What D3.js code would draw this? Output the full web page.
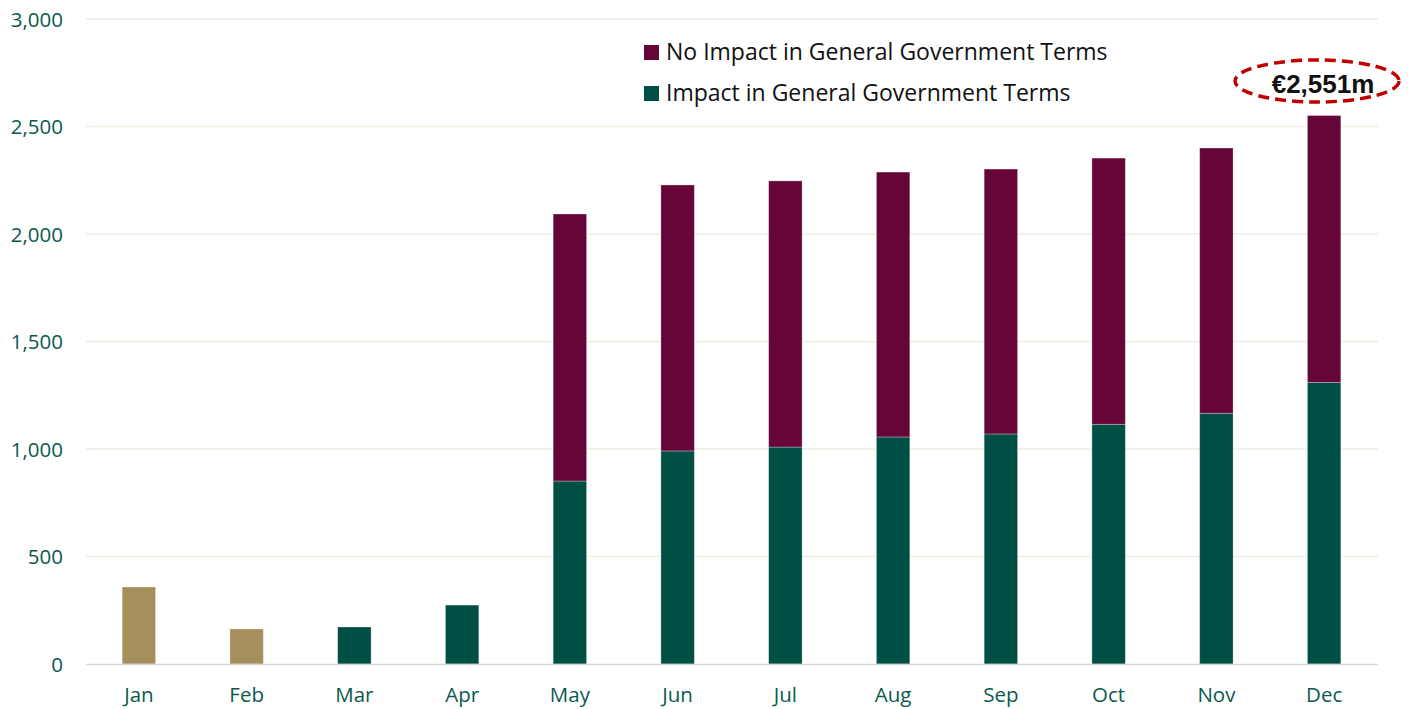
<!DOCTYPE html>
<html><head><meta charset="utf-8">
<script src="https://cdn.jsdelivr.net/npm/d3@7"></script>
<style>body{margin:0;background:#fff}svg{display:block}</style>
</head><body>
<svg id="c" width="1408" height="709"></svg>
<script>
const months = ["Jan","Feb","Mar","Apr","May","Jun","Jul","Aug","Sep","Oct","Nov","Dec"];
const earlyValues = [358, 163, 0, 0, 0, 0, 0, 0, 0, 0, 0, 0];
const impactValues = [0, 0, 172, 274, 851, 991, 1009, 1056, 1070, 1115, 1166, 1310];
const noImpactValues = [0, 0, 0, 0, 1242, 1237, 1238, 1232, 1232, 1238, 1234, 1241];
const yTicks = [0, 500, 1000, 1500, 2000, 2500, 3000];
const legendLabels = ["No Impact in General Government Terms", "Impact in General Government Terms"];
const annotation = "€2,551m";

const colors = {early:"#a58f5c", impact:"#004f44", noImpact:"#660638"};
const font = "'Open Sans', Lato, sans-serif";
const svg = d3.select("#c");
const x = d3.scaleBand().domain(months).range([85, 1378]).paddingInner(0.69).paddingOuter(0.345);
const y = d3.scaleLinear().domain([0, 3000]).range([664, 19]);

// gridlines
svg.append("g").selectAll("line").data(yTicks.filter(d => d > 0)).join("line")
  .attr("x1", 86).attr("x2", 1378).attr("y1", d => y(d)).attr("y2", d => y(d))
  .attr("stroke", "#eeede3").attr("stroke-width", 1.5);

// y axis labels
const yAxis = d3.axisLeft(y).tickValues(yTicks).tickFormat(d3.format(",")).tickSize(0).tickPadding(0);
const ya = svg.append("g").attr("transform", "translate(63,0)").call(yAxis);
ya.select(".domain").remove();
ya.selectAll("text").attr("fill", "#0b5a4e").style("font-family", font).style("font-size", "20.5px").attr("dy", "0.36em");

// stacked data
const data = months.map((m, i) => ({m, early: earlyValues[i], impact: impactValues[i], noImpact: noImpactValues[i]}));
const stack = d3.stack().keys(["early", "impact", "noImpact"])(data);
const g = svg.append("g");
stack.forEach(layer => {
  g.append("g").selectAll("rect").data(layer.filter(d => d[1] > d[0])).join("rect")
    .attr("x", d => x(d.data.m)).attr("width", x.bandwidth())
    .attr("y", d => y(d[1])).attr("height", d => y(d[0]) - y(d[1]))
    .attr("fill", colors[layer.key]).attr("stroke", "rgba(255,255,255,0.35)").attr("stroke-width", 0.8);
});

// baseline
svg.append("line").attr("x1", 86).attr("x2", 1378).attr("y1", y(0) + 0.5).attr("y2", y(0) + 0.5)
  .attr("stroke", "#d9d9d9").attr("stroke-width", 1.5);

// x axis labels
const xAxis = d3.axisBottom(x).tickSize(0).tickPadding(0);
const xa = svg.append("g").attr("transform", "translate(0,702)").call(xAxis);
xa.select(".domain").remove();
xa.selectAll("text").attr("fill", "#0b5a4e").style("font-family", font).style("font-size", "20.5px").attr("dy", "0").attr("y", 0);

// legend
const leg = svg.append("g").attr("transform", "translate(644,45)");
[colors.noImpact, colors.impact].forEach((c, i) => {
  leg.append("rect").attr("x", 0).attr("y", i * 41).attr("width", 15).attr("height", 15).attr("fill", c);
  leg.append("text").attr("x", 22).attr("y", i * 41 + 15)
    .style("font-family", font).style("font-size", "23px").attr("fill", "#111")
    .text(legendLabels[i]);
});

// annotation
svg.append("ellipse").attr("cx", 1317).attr("cy", 81).attr("rx", 82).attr("ry", 21)
  .attr("fill", "none").attr("stroke", "#c00000").attr("stroke-width", 3.5).attr("stroke-dasharray", "11,6");
svg.append("text").attr("x", 1323).attr("y", 84).attr("dy", "0.35em").attr("text-anchor", "middle")
  .style("font-family", "'Liberation Sans', Arial, sans-serif").style("font-weight", "bold").style("font-size", "26px")
  .attr("fill", "#111").text(annotation);
</script>
</body></html>
